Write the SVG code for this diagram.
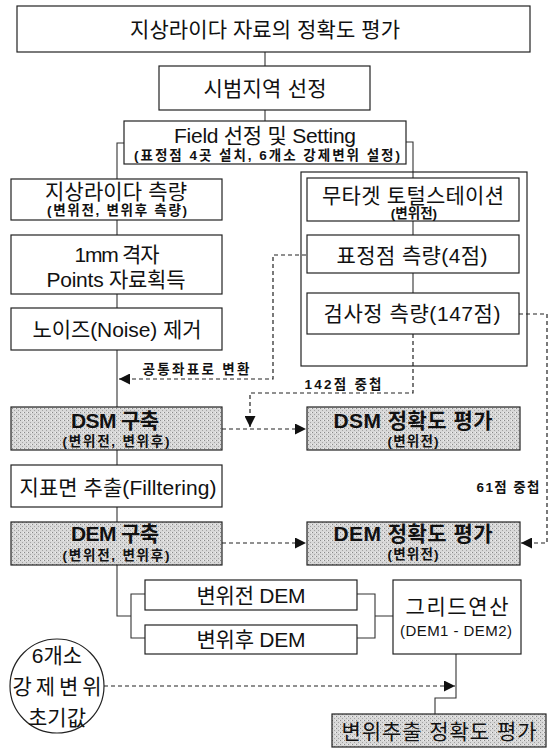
<svg xmlns="http://www.w3.org/2000/svg" width="553" height="749" viewBox="0 0 553 749">
<style>
text{font-family:"Liberation Sans","Noto Sans CJK KR",sans-serif;fill:#111;text-anchor:middle;dominant-baseline:central}
.t{font-size:21px}
.s{font-size:13.5px;font-weight:bold}
.b{font-weight:bold}
.box{fill:#fff;stroke:#222;stroke-width:1.2}
.sh{fill:url(#dots);stroke:#222;stroke-width:1.2}
.ln{fill:none;stroke:#333;stroke-width:1.1}
.ds{fill:none;stroke:#222;stroke-width:1.2;stroke-dasharray:4 3}
</style>
<defs>
<pattern id="dots" width="4" height="4" patternUnits="userSpaceOnUse">
<rect width="4" height="4" fill="#d8d8d8"/>
<rect x="0" y="0" width="1" height="1" fill="#8a8a8a"/>
<rect x="2" y="2" width="1" height="1" fill="#a4a4a4"/>
<rect x="3" y="0" width="1" height="1" fill="#f0f0f0"/>
</pattern>
<marker id="ah" viewBox="0 0 10 10" refX="10" refY="5" markerWidth="14" markerHeight="11" markerUnits="userSpaceOnUse" orient="auto">
<path d="M0,0 L10,5 L0,10 Z" fill="#111"/>
</marker>
</defs>

<g id="connectors">
<path class="ln" d="M265,52 V66 M265,110 V121"/>
<path class="ln" d="M124,143 H117 V179 M117,220 V235 M117,294 V308 M117,350 V407 M117,450 V465 M117,507 V522 M117,565 V616 H131"/>
<path class="ln" d="M406,142 H413 V178 M413,221 V235 M413,273 V293"/>
<path class="ln" d="M145,594 H131 V638 H145 M357,594 H375 V638 H357 M375,616 H393"/>
<path class="ln" d="M456,654 V698 H435 V714"/>
<path class="ds" d="M306,255 H273 V379 H119" marker-end="url(#ah)"/>
<path class="ds" d="M413,334 V393 H250 V427" marker-end="url(#ah)"/>
<path class="ds" d="M222,429 H306" marker-end="url(#ah)"/>
<path class="ds" d="M222,543 H306" marker-end="url(#ah)"/>
<path class="ds" d="M519,314 H547 V543 H521" marker-end="url(#ah)"/>
<path class="ds" d="M104,686 H455" marker-end="url(#ah)"/>
</g>

<g id="n-title"><rect class="box" x="17" y="6" width="513" height="46"/><text class="t" x="265" y="29" textLength="270" lengthAdjust="spacing">지상라이다 자료의 정확도 평가</text></g>
<g id="n-site"><rect class="box" x="159" y="66" width="211" height="44"/><text class="t" x="265" y="88" textLength="123" lengthAdjust="spacing">시범지역 선정</text></g>
<g id="n-field"><rect class="box" x="124" y="121" width="282" height="43"/><text class="t" x="265" y="135" textLength="182" lengthAdjust="spacing">Field 선정 및 Setting</text><text class="s" x="267" y="155" textLength="266" lengthAdjust="spacing">(표정점 4곳 설치, 6개소 강제변위 설정)</text></g>
<g id="n-tls"><rect class="box" x="11" y="179" width="211" height="41"/><text class="t" x="116" y="191" textLength="142" lengthAdjust="spacing">지상라이다 측량</text><text class="s" x="117" y="210" textLength="140" lengthAdjust="spacing">(변위전, 변위후 측량)</text></g>
<g id="n-grid"><rect class="box" x="11" y="235" width="211" height="59"/><text class="t" x="117" y="254" textLength="85" lengthAdjust="spacing">1mm 격자</text><text class="t" x="116" y="279" textLength="139" lengthAdjust="spacing">Points 자료획득</text></g>
<g id="n-noise"><rect class="box" x="11" y="308" width="211" height="42"/><text class="t" x="117" y="329" textLength="169" lengthAdjust="spacing">노이즈(Noise) 제거</text></g>
<g id="n-ts-group"><rect x="301" y="172" width="226" height="194" fill="none" stroke="#222" stroke-width="1.2"/></g>
<g id="n-ts"><rect class="box" x="307" y="178" width="212" height="43"/><text class="t" x="413" y="195" textLength="182" lengthAdjust="spacing">무타겟 토털스테이션</text><text class="s" x="414" y="213" font-size="12">(변위전)</text></g>
<g id="n-gcp"><rect class="box" x="307" y="235" width="212" height="38"/><text class="t" x="412" y="255" textLength="151" lengthAdjust="spacing">표정점 측량(4점)</text></g>
<g id="n-chk"><rect class="box" x="307" y="293" width="212" height="41"/><text class="t" x="412" y="313" textLength="177" lengthAdjust="spacing">검사정 측량(147점)</text></g>
<g id="l-labels"><text class="s" x="196" y="369" textLength="107" lengthAdjust="spacing">공통좌표로 변환</text><text class="s" x="343" y="384" textLength="77" lengthAdjust="spacing">142점 중첩</text><text class="s" x="508" y="487" textLength="63" lengthAdjust="spacing">61점 중첩</text></g>
<g id="n-dsm"><rect class="sh" x="11" y="407" width="211" height="43"/><text class="t b" x="115" y="420" textLength="88" lengthAdjust="spacing">DSM 구축</text><text class="s" x="116" y="441" textLength="107" lengthAdjust="spacing">(변위전, 변위후)</text></g>
<g id="n-dsm-acc"><rect class="sh" x="307" y="407" width="213" height="43"/><text class="t b" x="413" y="420" textLength="159" lengthAdjust="spacing">DSM 정확도 평가</text><text class="s" x="413" y="441" textLength="51" lengthAdjust="spacing">(변위전)</text></g>
<g id="n-filter"><rect class="box" x="11" y="465" width="211" height="42"/><text class="t" x="118" y="487" textLength="197" lengthAdjust="spacing">지표면 추출(Filltering)</text></g>
<g id="n-dem"><rect class="sh" x="11" y="522" width="211" height="43"/><text class="t b" x="115" y="533" textLength="88" lengthAdjust="spacing">DEM 구축</text><text class="s" x="116" y="555" textLength="107" lengthAdjust="spacing">(변위전, 변위후)</text></g>
<g id="n-dem-acc"><rect class="sh" x="307" y="522" width="213" height="43"/><text class="t b" x="413" y="533" textLength="159" lengthAdjust="spacing">DEM 정확도 평가</text><text class="s" x="413" y="554" textLength="51" lengthAdjust="spacing">(변위전)</text></g>
<g id="n-dem-pre"><rect class="box" x="145" y="580" width="212" height="30"/><text class="t" x="251" y="595" textLength="109" lengthAdjust="spacing">변위전 DEM</text></g>
<g id="n-dem-post"><rect class="box" x="145" y="625" width="212" height="29"/><text class="t" x="251" y="639" textLength="109" lengthAdjust="spacing">변위후 DEM</text></g>
<g id="n-gridop"><rect class="box" x="393" y="580" width="128" height="74"/><text class="t" x="457" y="606" textLength="103" lengthAdjust="spacing">그리드연산</text><text x="456" y="630" font-size="15" textLength="112" lengthAdjust="spacing">(DEM1 - DEM2)</text></g>
<g id="n-init"><circle cx="57" cy="686" r="47" fill="#fff" stroke="#222" stroke-width="1.2"/><text class="t" x="57" y="655">6개소</text><text class="t" x="57" y="686" textLength="89" lengthAdjust="spacing">강제변위</text><text class="t" x="57" y="717">초기값</text></g>
<g id="n-disp-acc"><rect class="sh" x="332" y="714" width="214" height="33"/><text class="t" x="439" y="731" textLength="195" lengthAdjust="spacing">변위추출 정확도 평가</text></g>
</svg>
